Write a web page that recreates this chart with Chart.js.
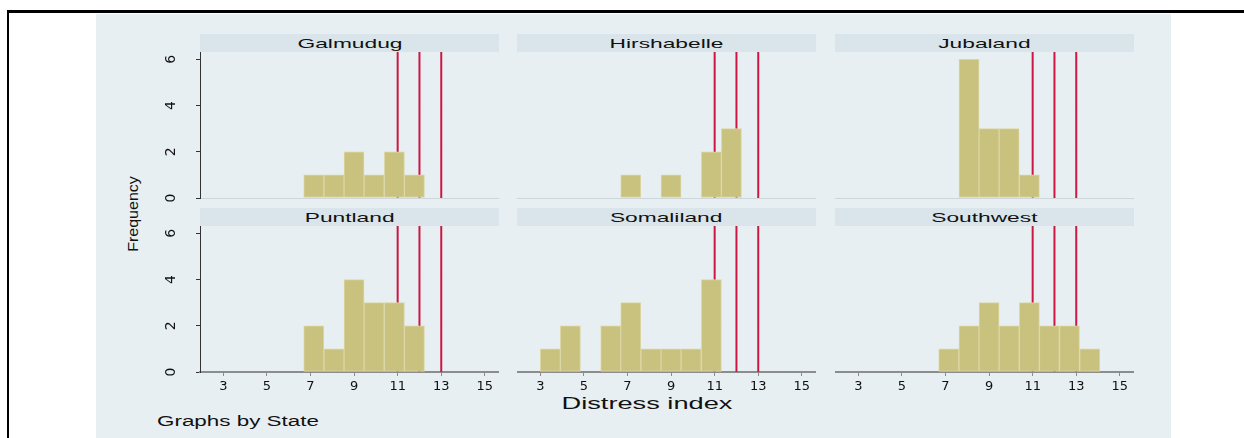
<!DOCTYPE html>
<html>
<head>
<meta charset="utf-8">
<script src="https://cdn.jsdelivr.net/npm/chart.js@4.4.1/dist/chart.umd.min.js"></script>
<style>
  body { margin: 0; width: 1244px; height: 438px; background: #fff; position: relative; overflow: hidden;
         font-family: "Liberation Sans", Arial, sans-serif; color: #111; }
  #frameTop { position: absolute; left: 7px; top: 10px; width: 1237px; height: 3px; background: #000; }
  #frameLeft { position: absolute; left: 7px; top: 10px; width: 2px; height: 428px; background: #000; }
  #graphRegion { position: absolute; left: 96px; top: 14px; width: 1075px; height: 424px; background: #e8eff2; }
  .strip { position: absolute; height: 18px; width: 299px; background: #d9e5eb; display: flex;
           align-items: center; justify-content: center; font-size: 13px; }
  .strip span { display: inline-block; transform: scaleX(1.75); }
  canvas { position: absolute; }
  .txt { position: absolute; white-space: nowrap; }
  #yTitle { left: 133px; top: 214px; font-size: 16px; transform: translate(-50%, -50%) rotate(-90deg) scaleY(0.9); }
  #xTitle { left: 647px; top: 404px; font-size: 16px; transform: translate(-50%, -50%) scaleX(1.7); }
  #note { left: 157px; top: 421px; font-size: 14px; transform-origin: left center; transform: translateY(-50%) scaleX(1.6); }
</style>
</head>
<body>
<div id="frameTop"></div>
<div id="frameLeft"></div>
<div id="graphRegion"></div>
<div class="txt" id="yTitle">Frequency</div>
<div class="txt" id="xTitle">Distress index</div>
<div class="txt" id="note">Graphs by State</div>

<script>
// histogram bins (13 bins of width 12/13 starting at 3)
const binCenters = [3.46, 4.38, 5.31, 6.23, 7.15, 8.08, 9.00, 9.92, 10.85, 11.77, 12.69, 13.62, 14.54];

const states = ["Galmudug", "Hirshabelle", "Jubaland", "Puntland", "Somaliland", "Southwest"];

// frequencies per bin
const galmudug    = [0, 0, 0, 0, 1, 1, 2, 1, 2, 1, 0, 0, 0];
const hirshabelle = [0, 0, 0, 0, 1, 0, 1, 0, 2, 3, 0, 0, 0];
const jubaland    = [0, 0, 0, 0, 0, 6, 3, 3, 1, 0, 0, 0, 0];
const puntland    = [0, 0, 0, 0, 2, 1, 4, 3, 3, 2, 0, 0, 0];
const somaliland  = [1, 2, 0, 2, 3, 1, 1, 1, 4, 0, 0, 0, 0];
const southwest   = [0, 0, 0, 0, 1, 2, 3, 2, 3, 2, 2, 1, 0];

// reference lines on the distress index
const cutoffs = [11, 12, 13];

const xTickValues = [3, 5, 7, 9, 11, 13, 15];
const yTickValues = [0, 2, 4, 6];

const counts = [galmudug, hirshabelle, jubaland, puntland, somaliland, southwest];

// axis ranges
const xMin = 1.93, xMax = 15.65;
const yMax = 6.32;

// layout of the 3x2 panels
const colLefts = [200, 517, 835];
const rowTops = [52, 226];
const plotW = 299, plotH = 146, stripH = 18;

const barFill = "#c9c27e";
const barEdge = "#dbd6a4";
const lineRed = "#cc1744";

states.forEach((name, i) => {
    const col = i % 3;
    const row = Math.floor(i / 3);
    const left = colLefts[col];
    const top = rowTops[row];
    const yAxisW = col === 0 ? 40 : 0;
    const xAxisH = row === 1 ? 40 : 8;   // top row keeps a little room so the "0" label is not cut

    // panel title strip
    const strip = document.createElement("div");
    strip.className = "strip";
    strip.style.left = left + "px";
    strip.style.top = (top - stripH) + "px";
    const label = document.createElement("span");
    label.textContent = name;
    strip.appendChild(label);
    document.body.appendChild(strip);

    // plot canvas
    const canvas = document.createElement("canvas");
    canvas.width = plotW + yAxisW;
    canvas.height = plotH + xAxisH;
    canvas.style.left = (left - yAxisW) + "px";
    canvas.style.top = top + "px";
    document.body.appendChild(canvas);

    const lineSets = cutoffs.map(c => ({
        type: "line",
        data: [{x: c, y: 0}, {x: c, y: yMax}],
        borderColor: lineRed,
        borderWidth: 2,
        pointRadius: 0,
        order: 1
    }));

    new Chart(canvas, {
        type: "bar",
        data: {
            datasets: [{
                type: "bar",
                data: binCenters.map((x, k) => ({x: x, y: counts[i][k]})),
                backgroundColor: barFill,
                borderColor: barEdge,
                borderWidth: 1,
                borderSkipped: false,
                barPercentage: 1,
                categoryPercentage: 1,
                order: 0
            }, ...lineSets]
        },
        options: {
            responsive: false,
            animation: false,
            devicePixelRatio: 1,
            layout: { padding: 0 },
            plugins: { legend: { display: false }, tooltip: { enabled: false } },
            scales: {
                x: {
                    type: "linear",
                    min: xMin,
                    max: xMax,
                    offset: false,
                    grid: { display: row === 1, drawOnChartArea: false, offset: false, tickLength: 4, color: "#8c8c8c" },
                    border: { display: true, color: row === 1 ? "#8c8c8c" : "#cdd6da", width: row === 1 ? 2 : 1 },
                    ticks: { display: row === 1, padding: 3, color: "#111", font: { family: "DejaVu Sans", size: 13 } },
                    afterBuildTicks: s => { s.ticks = xTickValues.map(v => ({value: v})); },
                    afterFit: s => { s.height = xAxisH; s.paddingLeft = 0; s.paddingRight = 0; }
                },
                y: {
                    min: 0,
                    max: yMax,
                    grid: { color: "#e6eef0", drawTicks: col === 0, tickLength: 4, tickColor: "#333" },
                    border: { display: col === 0, color: "#333", width: 1 },
                    ticks: {
                        display: col === 0, minRotation: 90, maxRotation: 90, crossAlign: "center",
                        padding: 20, color: "#111", font: { family: "DejaVu Sans", size: 14 }
                    },
                    afterBuildTicks: s => { s.ticks = yTickValues.map(v => ({value: v})); },
                    afterFit: s => { s.width = yAxisW; s.paddingTop = 0; s.paddingBottom = 0; }
                }
            }
        }
    });
});
</script>
</body>
</html>
